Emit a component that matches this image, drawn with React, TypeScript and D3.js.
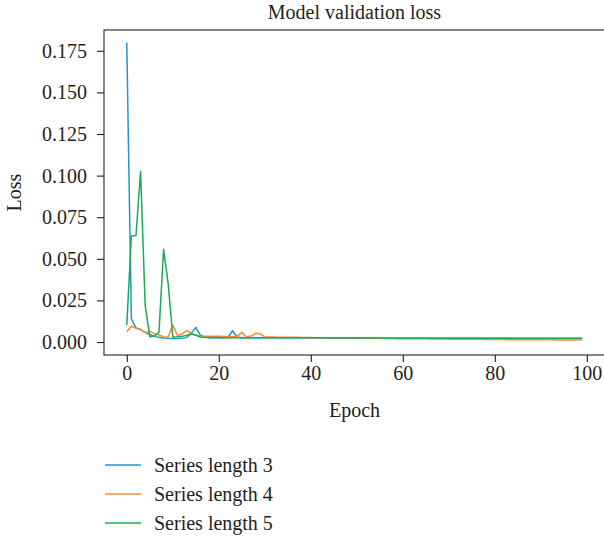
import { useEffect, useRef } from 'react'
import * as d3 from 'd3'

const epochs = d3.range(0, 100)

const seriesLength3 = [
  0.1800, 0.0140, 0.0085, 0.0075, 0.0058, 0.0045, 0.0034, 0.0028, 0.0024, 0.0022,
  0.0021, 0.0021, 0.0022, 0.0028, 0.0052, 0.0088, 0.0042, 0.0028, 0.0026, 0.0026,
  0.0025, 0.0025, 0.0028, 0.0068, 0.0030, 0.0026, 0.0026, 0.0026, 0.0026, 0.0026,
  0.0026, 0.0026, 0.0025, 0.0025, 0.0025, 0.0025, 0.0025, 0.0025, 0.0025, 0.0025,
  0.0025, 0.0025, 0.0024, 0.0024, 0.0024, 0.0024, 0.0024, 0.0024, 0.0024, 0.0024,
  0.0024, 0.0024, 0.0023, 0.0023, 0.0023, 0.0023, 0.0023, 0.0023, 0.0023, 0.0023,
  0.0023, 0.0023, 0.0023, 0.0023, 0.0023, 0.0022, 0.0022, 0.0022, 0.0022, 0.0022,
  0.0022, 0.0022, 0.0022, 0.0022, 0.0022, 0.0022, 0.0022, 0.0022, 0.0022, 0.0022,
  0.0022, 0.0022, 0.0022, 0.0022, 0.0021, 0.0021, 0.0021, 0.0021, 0.0021, 0.0021,
  0.0021, 0.0021, 0.0021, 0.0021, 0.0021, 0.0021, 0.0021, 0.0021, 0.0021, 0.0021,
]

const seriesLength4 = [
  0.0062, 0.0096, 0.0082, 0.0074, 0.0058, 0.0064, 0.0050, 0.0042, 0.0032, 0.0030,
  0.0102, 0.0040, 0.0048, 0.0068, 0.0052, 0.0040, 0.0036, 0.0035, 0.0035, 0.0034,
  0.0034, 0.0033, 0.0033, 0.0032, 0.0034, 0.0058, 0.0032, 0.0036, 0.0052, 0.0050,
  0.0031, 0.0030, 0.0030, 0.0029, 0.0029, 0.0028, 0.0028, 0.0028, 0.0027, 0.0027,
  0.0027, 0.0026, 0.0026, 0.0026, 0.0025, 0.0025, 0.0025, 0.0024, 0.0024, 0.0024,
  0.0023, 0.0023, 0.0023, 0.0022, 0.0022, 0.0022, 0.0021, 0.0021, 0.0021, 0.0020,
  0.0020, 0.0020, 0.0019, 0.0019, 0.0019, 0.0019, 0.0018, 0.0018, 0.0018, 0.0018,
  0.0017, 0.0017, 0.0017, 0.0017, 0.0016, 0.0016, 0.0016, 0.0016, 0.0015, 0.0015,
  0.0015, 0.0015, 0.0015, 0.0014, 0.0014, 0.0014, 0.0014, 0.0014, 0.0013, 0.0013,
  0.0013, 0.0013, 0.0013, 0.0013, 0.0012, 0.0012, 0.0012, 0.0012, 0.0012, 0.0012,
]

const seriesLength5 = [
  0.0102, 0.0637, 0.0640, 0.1025, 0.0220, 0.0032, 0.0036, 0.0058, 0.0557, 0.0350,
  0.0030, 0.0031, 0.0034, 0.0040, 0.0048, 0.0042, 0.0030, 0.0028, 0.0027, 0.0027,
  0.0027, 0.0026, 0.0026, 0.0026, 0.0026, 0.0026, 0.0026, 0.0026, 0.0026, 0.0026,
  0.0026, 0.0026, 0.0025, 0.0025, 0.0025, 0.0025, 0.0025, 0.0025, 0.0025, 0.0025,
  0.0025, 0.0025, 0.0025, 0.0025, 0.0024, 0.0024, 0.0024, 0.0024, 0.0024, 0.0024,
  0.0024, 0.0024, 0.0024, 0.0024, 0.0024, 0.0024, 0.0023, 0.0023, 0.0023, 0.0023,
  0.0023, 0.0023, 0.0023, 0.0023, 0.0023, 0.0023, 0.0023, 0.0023, 0.0023, 0.0023,
  0.0023, 0.0023, 0.0023, 0.0022, 0.0022, 0.0022, 0.0022, 0.0022, 0.0022, 0.0022,
  0.0022, 0.0022, 0.0022, 0.0022, 0.0022, 0.0022, 0.0022, 0.0022, 0.0022, 0.0022,
  0.0022, 0.0022, 0.0022, 0.0022, 0.0022, 0.0022, 0.0022, 0.0022, 0.0022, 0.0022,
]

const seriesNames = ['Series length 3', 'Series length 4', 'Series length 5']
const seriesColors = ['#2197cf', '#f98d38', '#1bab57']
const xTicks = [0, 20, 40, 60, 80, 100]
const yTicks = [0, 0.025, 0.05, 0.075, 0.1, 0.125, 0.15, 0.175]

const FONT = '"Liberation Serif", "DejaVu Serif", serif'
const FS = 20
const TEXT = '#231f20'

export default function App() {
  const svgRef = useRef<SVGSVGElement | null>(null)

  useEffect(() => {
    const W = 604
    const H = 537
    const plot = { left: 104, right: 605, top: 30, bottom: 355 }

    const x = d3.scaleLinear().domain([-4.95, 103.95]).range([plot.left, plot.right])
    const y = d3.scaleLinear().domain([-0.0078, 0.1875]).range([plot.bottom, plot.top])

    const svg = d3.select(svgRef.current)
    svg.selectAll('*').remove()
    svg.attr('width', W).attr('height', H)

    const series = [seriesLength3, seriesLength4, seriesLength5]

    const line = d3.line<number>()
      .x((_, i) => x(epochs[i]))
      .y((d) => y(d))

    series.forEach((vals, k) => {
      svg.append('path')
        .datum(vals)
        .attr('fill', 'none')
        .attr('stroke', seriesColors[k])
        .attr('stroke-width', 1.5)
        .attr('stroke-linejoin', 'round')
        .attr('d', line)
    })

    // frame
    svg.append('rect')
      .attr('x', plot.left)
      .attr('y', plot.top)
      .attr('width', plot.right - plot.left)
      .attr('height', plot.bottom - plot.top)
      .attr('fill', 'none')
      .attr('stroke', '#231f20')
      .attr('stroke-width', 1.1)

    // axes
    svg.append('g')
      .attr('transform', `translate(0,${plot.bottom})`)
      .call(d3.axisBottom(x).tickValues(xTicks).tickSize(7).tickPadding(4).tickFormat(d3.format('d')))
      .call((g) => g.select('.domain').remove())
      .call((g) => g.selectAll('.tick line').attr('stroke', '#231f20').attr('stroke-width', 1.1))
      .call((g) => g.selectAll('text').attr('fill', TEXT).attr('font-size', FS).attr('font-family', FONT))

    svg.append('g')
      .attr('transform', `translate(${plot.left},0)`)
      .call(d3.axisLeft(y).tickValues(yTicks).tickSize(7).tickPadding(10).tickFormat(d3.format('.3f')))
      .call((g) => g.select('.domain').remove())
      .call((g) => g.selectAll('.tick line').attr('stroke', '#231f20').attr('stroke-width', 1.1))
      .call((g) => g.selectAll('text').attr('fill', TEXT).attr('font-size', FS).attr('font-family', FONT))

    // labels
    svg.append('text')
      .attr('x', (plot.left + plot.right) / 2)
      .attr('y', 19)
      .attr('text-anchor', 'middle')
      .attr('font-family', FONT)
      .attr('font-size', FS)
      .attr('fill', TEXT)
      .text('Model validation loss')

    svg.append('text')
      .attr('x', (plot.left + plot.right) / 2)
      .attr('y', 417)
      .attr('text-anchor', 'middle')
      .attr('font-family', FONT)
      .attr('font-size', FS)
      .attr('fill', TEXT)
      .text('Epoch')

    svg.append('text')
      .attr('transform', `translate(21,${(plot.top + plot.bottom) / 2}) rotate(-90)`)
      .attr('text-anchor', 'middle')
      .attr('font-family', FONT)
      .attr('font-size', FS)
      .attr('fill', TEXT)
      .text('Loss')

    // legend
    const legend = svg.append('g').attr('transform', 'translate(105,465)')
    seriesNames.forEach((name, k) => {
      const row = legend.append('g').attr('transform', `translate(0,${k * 29})`)
      row.append('line')
        .attr('x1', 0).attr('x2', 36)
        .attr('stroke', seriesColors[k])
        .attr('stroke-width', 1.5)
      row.append('text')
        .attr('x', 49)
        .attr('y', 7)
        .attr('font-family', FONT)
        .attr('font-size', FS)
        .attr('fill', TEXT)
        .text(name)
    })
  }, [])

  return (
    <div style={{ position: 'absolute', left: 0, top: 0 }}>
      <svg ref={svgRef} style={{ display: 'block' }} />
    </div>
  )
}
